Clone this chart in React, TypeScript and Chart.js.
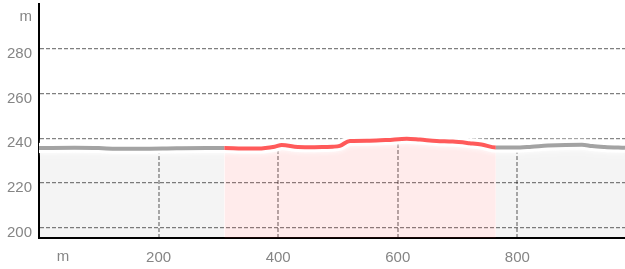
import React, { useEffect, useRef } from 'react';
import { Chart, registerables } from 'chart.js';

Chart.register(...registerables);

const DIST = [0, 60, 100, 130, 170, 230, 280, 310, 340, 366, 394, 406, 433, 461, 478, 491, 503, 520, 553, 582, 615, 637, 665, 692, 720, 740, 764, 796, 824, 851, 908, 925, 946, 980];
const ELEV = [235.6, 235.7, 235.6, 235.3, 235.3, 235.5, 235.6, 235.6, 235.4, 235.4, 236.2, 237.0, 236.1, 236.0, 236.1, 236.2, 236.6, 238.8, 238.9, 239.2, 239.8, 239.4, 238.8, 238.5, 237.8, 237.2, 235.8, 235.8, 236.2, 236.7, 237.1, 236.5, 236.1, 235.7];
const X_TICKS = [200, 400, 600, 800];
const Y_TICKS = [200, 220, 240, 260, 280];
const HIGHLIGHT_START = 310;
const HIGHLIGHT_END = 764;
const X_MIN = 0;
const X_MAX = 980;
const Y_MIN = 195.4;
const Y_MAX = 300;
const UNIT = 'm';

const FONT = "'Liberation Sans', Arial, sans-serif";
const LABEL_COLOR = '#858585';
const GRID_COLOR = 'rgba(0,0,0,0.5)';
const GRID_DASH = [4, 2];

function elevAt(d: number): number {
  for (let i = 0; i < DIST.length - 1; i++) {
    if (d >= DIST[i] && d <= DIST[i + 1]) {
      const t = (d - DIST[i]) / (DIST[i + 1] - DIST[i]);
      return ELEV[i] + t * (ELEV[i + 1] - ELEV[i]);
    }
  }
  return ELEV[ELEV.length - 1];
}

export default function App() {
  const ref = useRef<HTMLCanvasElement | null>(null);

  useEffect(() => {
    if (!ref.current) return;
    const points = DIST.map((d, i) => ({ x: d, y: ELEV[i] }));
    const inHi = (c: any) => c.p0.parsed.x >= HIGHLIGHT_START && c.p1.parsed.x <= HIGHLIGHT_END;

    const vGrid = {
      id: 'vGrid',
      beforeDatasetsDraw(chart: any) {
        const { ctx, chartArea, scales } = chart;
        ctx.save();
        ctx.strokeStyle = GRID_COLOR;
        ctx.lineWidth = 1.3;
        ctx.setLineDash(GRID_DASH);
        for (const v of X_TICKS) {
          const px = Math.round(scales.x.getPixelForValue(v));
          const top = scales.y.getPixelForValue(elevAt(v));
          ctx.beginPath();
          ctx.moveTo(px, chartArea.bottom);
          ctx.lineTo(px, top);
          ctx.stroke();
        }
        ctx.restore();
      },
    };

    const glow = {
      id: 'glow',
      beforeDatasetDraw(chart: any, args: any) {
        if (args.index === 1) {
          chart.ctx.save();
          chart.ctx.shadowColor = '#ffffff';
          chart.ctx.shadowBlur = 5;
        }
      },
      afterDatasetDraw(chart: any, args: any) {
        if (args.index === 1) chart.ctx.restore();
      },
    };

    const units = {
      id: 'units',
      afterDraw(chart: any) {
        const { ctx, chartArea } = chart;
        ctx.save();
        ctx.fillStyle = LABEL_COLOR;
        ctx.font = `15px ${FONT}`;
        ctx.textBaseline = 'middle';
        ctx.textAlign = 'right';
        ctx.fillText(UNIT, chartArea.left - 7, chartArea.top + 13);
        ctx.textAlign = 'center';
        ctx.fillText(UNIT, chartArea.left + 24, chartArea.bottom + 19);
        ctx.restore();
      },
    };

    const chart = new Chart(ref.current, {
      type: 'line',
      data: {
        datasets: [
          {
            data: points,
            borderWidth: 0,
            pointRadius: 0,
            fill: 'start',
            backgroundColor: 'rgba(0,0,0,0.045)',
            cubicInterpolationMode: 'monotone',
            segment: {
              backgroundColor: (c: any) => (inHi(c) ? 'rgba(255,60,60,0.1)' : 'rgba(0,0,0,0.045)'),
            },
            order: 2,
          } as any,
          {
            data: points,
            borderWidth: 10,
            borderColor: '#ffffff',
            pointRadius: 0,
            fill: false,
            cubicInterpolationMode: 'monotone',
            order: 1,
          },
          {
            data: points,
            borderWidth: 4,
            borderColor: '#a3a3a3',
            pointRadius: 0,
            fill: false,
            cubicInterpolationMode: 'monotone',
            segment: {
              borderColor: (c: any) => (inHi(c) ? '#ff5a5a' : '#a3a3a3'),
            },
            order: 0,
          } as any,
        ],
      },
      options: {
        responsive: false,
        animation: false,
        devicePixelRatio: 1,
        layout: { padding: { top: 4, right: 0, left: 0, bottom: 0 } },
        plugins: { legend: { display: false }, tooltip: { enabled: false } },
        scales: {
          x: {
            type: 'linear',
            min: X_MIN,
            max: X_MAX,
            afterBuildTicks: (s: any) => {
              s.ticks = X_TICKS.map((v) => ({ value: v }));
            },
            afterFit: (s: any) => {
              s.height = 31;
              s.paddingLeft = 0;
              s.paddingRight = 0;
            },
            grid: { display: false, drawTicks: false },
            border: { display: true, color: '#000', width: 2 },
            ticks: {
              color: LABEL_COLOR,
              font: { size: 15, family: FONT },
              padding: 11,
              maxRotation: 0,
              autoSkip: false,
            },
          },
          y: {
            type: 'linear',
            min: Y_MIN,
            max: Y_MAX,
            afterBuildTicks: (s: any) => {
              s.ticks = Y_TICKS.map((v) => ({ value: v }));
            },
            afterFit: (s: any) => {
              s.width = 39;
              s.paddingTop = 0;
              s.paddingBottom = 0;
            },
            grid: { display: true, drawTicks: false, color: GRID_COLOR, lineWidth: 1.3 },
            border: { display: true, color: '#000', width: 2, dash: GRID_DASH },
            ticks: {
              color: LABEL_COLOR,
              font: { size: 15, family: FONT },
              padding: 7,
              labelOffset: 5,
              autoSkip: false,
            },
          },
        },
      },
      plugins: [vGrid, glow, units],
    });
    return () => chart.destroy();
  }, []);

  return (
    <div style={{ position: 'fixed', left: 0, top: 0, width: 625, height: 269 }}>
      <canvas ref={ref} width={625} height={269} style={{ display: 'block' }} />
    </div>
  );
}
